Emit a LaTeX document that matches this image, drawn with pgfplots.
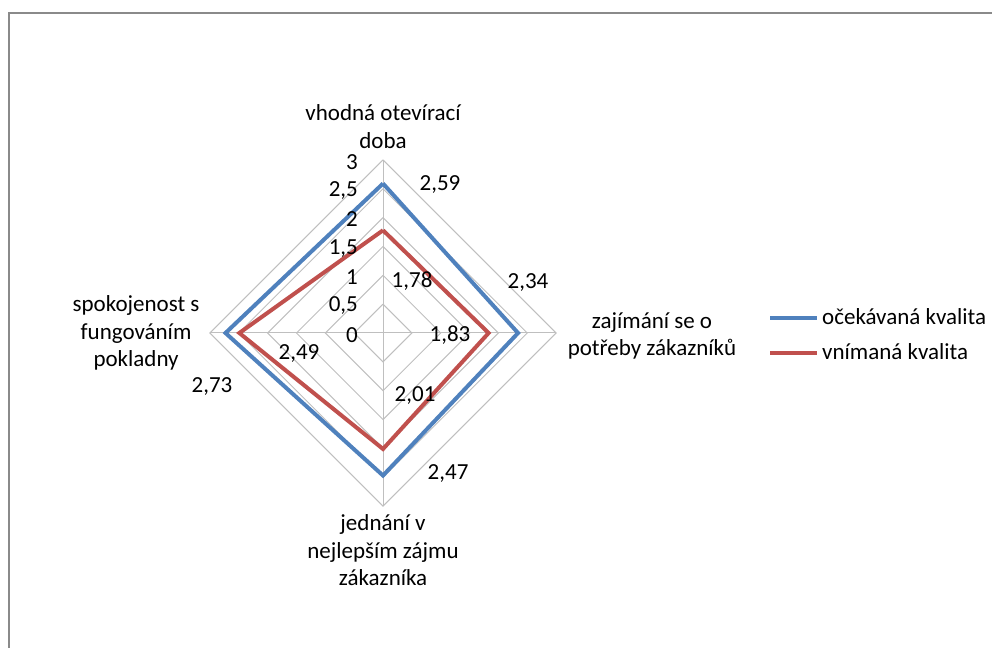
\documentclass[border=0pt]{standalone}
\usepackage{fontspec}
\setmainfont{Carlito}
\usepackage{pgfplots}
\pgfplotsset{compat=1.18}
\definecolor{serblue}{HTML}{4F81BD}
\definecolor{serred}{HTML}{C0504D}
\definecolor{gridc}{HTML}{BFBFBF}
\definecolor{framec}{HTML}{8A8A8A}
\definecolor{txt}{HTML}{262626}
\begin{document}
\begin{tikzpicture}
\begin{axis}[
  name=ax,
  scale only axis, width=496pt, height=324pt,
  xmin=-6.638, xmax=10.554, ymin=-5.459, ymax=5.771,
  hide axis, clip=false,
  font=\fontsize{11.5}{13.75}\selectfont,
  every node/.append style={text=txt},
  legend style={at={(0.774,0.4815)}, anchor=west, draw=none, fill=none,
    font=\fontsize{11.5}{13.75}\selectfont, row sep=5pt, inner sep=0pt,
    nodes={inner sep=1.5pt}},
  legend cell align=left,
  legend image code/.code={\draw[#1] (0pt,0pt) -- (23.5pt,0pt);},
]
% grid diamonds
\addplot[gridc, line width=0.5pt, forget plot] coordinates {(0,0.5) (0.5,0) (0,-0.5) (-0.5,0) (0,0.5)};
\addplot[gridc, line width=0.5pt, forget plot] coordinates {(0,1) (1,0) (0,-1) (-1,0) (0,1)};
\addplot[gridc, line width=0.5pt, forget plot] coordinates {(0,1.5) (1.5,0) (0,-1.5) (-1.5,0) (0,1.5)};
\addplot[gridc, line width=0.5pt, forget plot] coordinates {(0,2) (2,0) (0,-2) (-2,0) (0,2)};
\addplot[gridc, line width=0.5pt, forget plot] coordinates {(0,2.5) (2.5,0) (0,-2.5) (-2.5,0) (0,2.5)};
\addplot[gridc, line width=0.5pt, forget plot] coordinates {(0,3) (3,0) (0,-3) (-3,0) (0,3)};
% spokes
\addplot[gridc, line width=0.5pt, forget plot] coordinates {(0,-3) (0,3)};
\addplot[gridc, line width=0.5pt, forget plot] coordinates {(-3,0) (3,0)};
% series
\addplot[serblue, line width=2pt, line join=miter] coordinates {(0,2.59) (2.34,0) (0,-2.47) (-2.73,0) (0,2.59)};
\addlegendentry{očekávaná kvalita}
\addplot[serred, line width=2pt, line join=miter] coordinates {(0,1.78) (1.83,0) (0,-2.01) (-2.49,0) (0,1.78)};
\addlegendentry{vnímaná kvalita}
% axis tick labels
\node[anchor=east, inner sep=0pt] at (axis cs:-0.43,-0.03) {0};
\node[anchor=east, inner sep=0pt] at (axis cs:-0.43,0.47) {0,5};
\node[anchor=east, inner sep=0pt] at (axis cs:-0.43,0.97) {1};
\node[anchor=east, inner sep=0pt] at (axis cs:-0.43,1.47) {1,5};
\node[anchor=east, inner sep=0pt] at (axis cs:-0.43,1.97) {2};
\node[anchor=east, inner sep=0pt] at (axis cs:-0.43,2.47) {2,5};
\node[anchor=east, inner sep=0pt] at (axis cs:-0.43,2.97) {3};
% data labels
\node at (axis cs:0.988,2.565) {2,59};
\node at (axis cs:2.513,0.867) {2,34};
\node at (axis cs:1.127,-2.43) {2,47};
\node at (axis cs:-2.964,-0.92) {2,73};
\node at (axis cs:0.503,0.901) {1,78};
\node at (axis cs:1.161,-0.035) {1,83};
\node at (axis cs:0.555,-1.09) {2,01};
\node at (axis cs:-1.456,-0.347) {2,49};
% category labels
\node[align=center] at (axis cs:0,3.579) {vhodná otevírací\\doba};
\node[align=center] at (axis cs:4.662,-0.052) {zajímání se o\\potřeby zákazníků};
\node[align=center] at (axis cs:0,-3.77) {jednání v\\nejlepším zájmu\\zákazníka};
\node[align=center] at (axis cs:-4.28,0) {spokojenost s\\fungováním\\pokladny};
% chart frame
\draw[framec, line width=1pt] (axis cs:-6.482,-5.459) -- (axis cs:-6.482,5.546) -- (axis cs:10.554,5.546);
\end{axis}
\pgfresetboundingbox
\path (ax.south west) rectangle (ax.north east);
\end{tikzpicture}
\end{document}
